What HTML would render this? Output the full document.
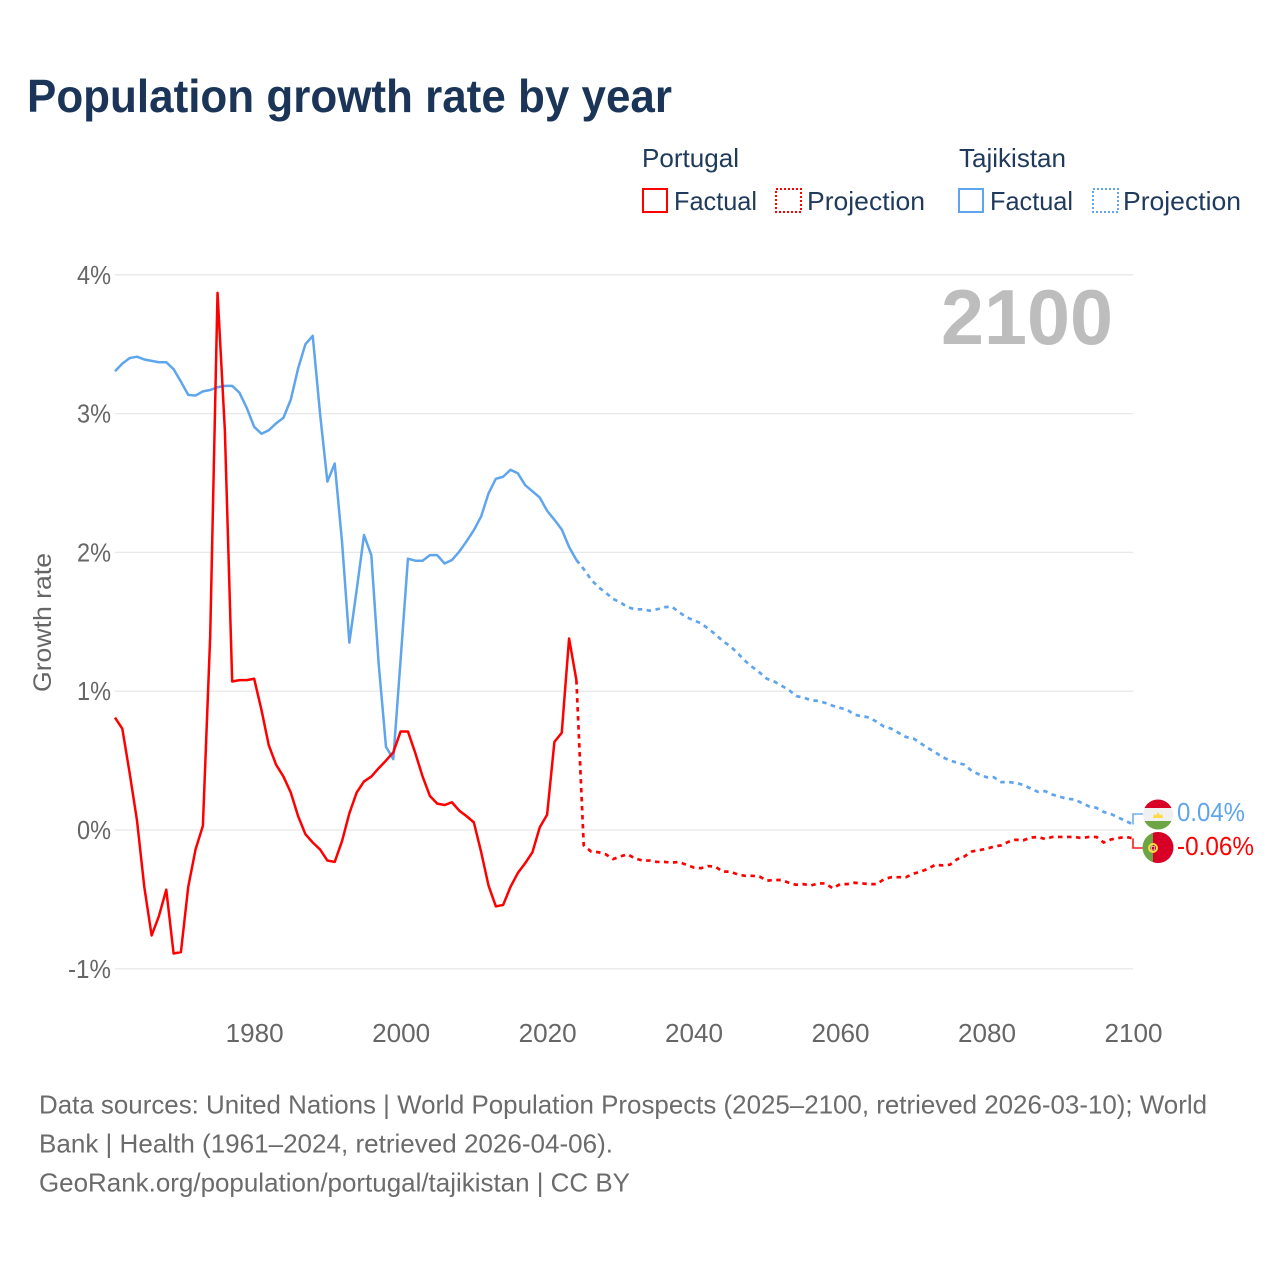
<!DOCTYPE html>
<html lang="en">
<head>
<meta charset="utf-8">
<title>Population growth rate by year</title>
<style>
html,body{margin:0;padding:0;background:#fff;width:1280px;height:1280px;overflow:hidden}
svg{display:block}
text{font-family:"Liberation Sans",sans-serif}
</style>
</head>
<body>
<svg id="chart" width="1280" height="1280" viewBox="0 0 1280 1280" xmlns="http://www.w3.org/2000/svg">
  <defs>
    <clipPath id="clip-tj"><circle cx="1158" cy="814.5" r="15"/></clipPath>
    <clipPath id="clip-pt"><circle cx="1158" cy="847.5" r="15.5"/></clipPath>
  </defs>
  <rect width="1280" height="1280" fill="#fff"/>
  <text x="27" y="112" font-size="46" font-weight="700" fill="#1a3557" textLength="645" lengthAdjust="spacingAndGlyphs">Population growth rate by year</text>

  <g font-size="26" fill="#1f3a5c">
    <text x="642" y="167" textLength="97" lengthAdjust="spacingAndGlyphs">Portugal</text>
    <text x="959" y="167" textLength="107" lengthAdjust="spacingAndGlyphs">Tajikistan</text>
    <rect x="643" y="189" width="24" height="23" fill="none" stroke="#ff0000" stroke-width="2"/>
    <text x="674" y="210" textLength="83" lengthAdjust="spacingAndGlyphs">Factual</text>
    <rect x="776" y="189" width="25" height="23" fill="none" stroke="#ff0000" stroke-width="2" stroke-dasharray="2 2"/>
    <text x="807" y="210" textLength="118" lengthAdjust="spacingAndGlyphs">Projection</text>
    <rect x="959" y="189" width="24" height="23" fill="none" stroke="#5fa5ee" stroke-width="2"/>
    <text x="990" y="210" textLength="83" lengthAdjust="spacingAndGlyphs">Factual</text>
    <rect x="1093" y="189" width="25" height="23" fill="none" stroke="#5fa5ee" stroke-width="2" stroke-dasharray="2 2"/>
    <text x="1123" y="210" textLength="118" lengthAdjust="spacingAndGlyphs">Projection</text>
  </g>

  <g id="grid"></g>
  <g id="y-ticks" font-size="26" fill="#666"></g>
  <g id="x-ticks" font-size="26" fill="#666"></g>
  <text transform="translate(51 622.5) rotate(-90)" text-anchor="middle" font-size="25" fill="#666" textLength="139" lengthAdjust="spacingAndGlyphs">Growth rate</text>
  <text x="941" y="344" font-size="78" font-weight="700" fill="#bdbdbd" textLength="172" lengthAdjust="spacingAndGlyphs">2100</text>

  <g id="series"></g>

  <g clip-path="url(#clip-tj)">
    <rect x="1143" y="799" width="30" height="9" fill="#d80027"/>
    <rect x="1143" y="808" width="30" height="13" fill="#f0f0f0"/>
    <rect x="1143" y="821" width="30" height="9" fill="#6da544"/>
    <path d="M1153 818h10l-1-4-2 1.500-2-3.500-2 3.500-2-1.500z" fill="#ffda44"/>
  </g>
  <g clip-path="url(#clip-pt)">
    <rect x="1142" y="832" width="11" height="31" fill="#6da544"/>
    <rect x="1153" y="832" width="21" height="31" fill="#d80027"/>
    <circle cx="1153" cy="848" r="4" fill="none" stroke="#ffda44" stroke-width="2"/>
    <rect x="1151.500" y="846.500" width="3" height="3.500" fill="#d80027" stroke="#f0f0f0" stroke-width="0.6"/>
  </g>
  <text id="label-tj" x="1177" y="821" font-size="26" fill="#5fa5ee" textLength="68" lengthAdjust="spacingAndGlyphs"></text>
  <text id="label-pt" x="1177" y="855" font-size="26" fill="#ff0000" textLength="77" lengthAdjust="spacingAndGlyphs"></text>

  <g font-size="26" fill="#6b6b6b">
    <text x="39" y="1113.500" textLength="1168" lengthAdjust="spacingAndGlyphs">Data sources: United Nations | World Population Prospects (2025–2100, retrieved 2026-03-10); World</text>
    <text x="39" y="1152.500" textLength="574" lengthAdjust="spacingAndGlyphs">Bank | Health (1961–2024, retrieved 2026-04-06).</text>
    <text x="39" y="1191.500" textLength="591" lengthAdjust="spacingAndGlyphs">GeoRank.org/population/portugal/tajikistan | CC BY</text>
  </g>
</svg>
<script>
const firstFactualYear = 1961;
const firstProjectionYear = 2024;
const yTickValues = [-1, 0, 1, 2, 3, 4];
const xTickYears = [1980, 2000, 2020, 2040, 2060, 2080, 2100];
const portugalFactual = [0.81,0.73,0.41,0.07,-0.41,-0.76,-0.62,-0.43,-0.89,-0.88,-0.41,-0.14,0.03,1.40,3.87,2.88,1.07,1.08,1.08,1.09,0.865,0.61,0.47,0.385,0.27,0.10,-0.03,-0.09,-0.14,-0.22,-0.23,-0.08,0.12,0.27,0.35,0.385,0.445,0.50,0.56,0.71,0.71,0.555,0.385,0.245,0.19,0.18,0.20,0.14,0.10,0.055,-0.16,-0.40,-0.55,-0.54,-0.41,-0.31,-0.24,-0.16,0.02,0.11,0.635,0.70,1.38,1.08];
const portugalProjection = [1.08,-0.11,-0.155,-0.16,-0.175,-0.21,-0.19,-0.175,-0.205,-0.22,-0.22,-0.23,-0.23,-0.235,-0.23,-0.25,-0.27,-0.275,-0.26,-0.265,-0.30,-0.30,-0.32,-0.33,-0.33,-0.335,-0.365,-0.36,-0.36,-0.38,-0.395,-0.39,-0.40,-0.385,-0.385,-0.42,-0.39,-0.39,-0.38,-0.385,-0.39,-0.39,-0.355,-0.34,-0.34,-0.34,-0.315,-0.30,-0.28,-0.25,-0.255,-0.25,-0.21,-0.19,-0.155,-0.145,-0.135,-0.12,-0.11,-0.085,-0.07,-0.075,-0.055,-0.05,-0.065,-0.05,-0.05,-0.05,-0.05,-0.058,-0.05,-0.05,-0.09,-0.068,-0.058,-0.05,-0.06];
const tajikistanFactual = [3.305,3.36,3.40,3.41,3.39,3.38,3.37,3.37,3.32,3.23,3.135,3.13,3.16,3.17,3.19,3.20,3.20,3.15,3.04,2.905,2.855,2.88,2.93,2.97,3.10,3.325,3.50,3.56,3.00,2.51,2.64,2.075,1.35,1.73,2.125,1.98,1.20,0.60,0.51,1.23,1.955,1.94,1.94,1.98,1.98,1.92,1.945,2.005,2.08,2.16,2.26,2.425,2.53,2.545,2.595,2.57,2.485,2.44,2.395,2.30,2.235,2.165,2.04,1.945];
const tajikistanProjection = [1.945,1.88,1.805,1.75,1.71,1.665,1.64,1.605,1.59,1.59,1.58,1.59,1.605,1.61,1.57,1.535,1.51,1.49,1.45,1.41,1.36,1.325,1.275,1.22,1.175,1.135,1.09,1.07,1.04,1.01,0.965,0.955,0.935,0.93,0.915,0.895,0.88,0.865,0.83,0.82,0.81,0.78,0.745,0.73,0.70,0.67,0.66,0.625,0.59,0.56,0.525,0.50,0.485,0.47,0.425,0.40,0.38,0.38,0.345,0.345,0.34,0.325,0.30,0.275,0.28,0.255,0.24,0.225,0.22,0.195,0.17,0.16,0.13,0.115,0.09,0.065,0.04];

const NS = 'http://www.w3.org/2000/svg';
const RED = '#ff0000';
const BLUE = '#5fa5ee';
const xScale = year => 115 + (year - 1961) * (1133 - 115) / (2100 - 1961);
const yScale = value => 830 - value * 138.8;
const fmt = value => value + '%';

function make(tag, parent, attrs) {
  const el = document.createElementNS(NS, tag);
  for (const key in attrs) el.setAttribute(key, attrs[key]);
  parent.appendChild(el);
  return el;
}
function linePath(values, startYear) {
  return values.map((v, i) => (i ? 'L' : 'M') + xScale(startYear + i).toFixed(2) + ' ' + yScale(v).toFixed(2)).join('');
}

const grid = document.getElementById('grid');
const yTicks = document.getElementById('y-ticks');
const xTicks = document.getElementById('x-ticks');
const series = document.getElementById('series');

yTickValues.forEach(v => {
  const line = make('line', grid, {x1: 115, x2: 1133, y1: yScale(v), y2: yScale(v), stroke: '#e8e8e8', 'stroke-width': 1.3});
  
  
  const label = make('text', yTicks, {x: 111, y: yScale(v) + 9, 'text-anchor': 'end', textLength: v < 0 ? 43 : 34, lengthAdjust: 'spacingAndGlyphs'});
  label.textContent = fmt(v);
  
  
});
xTickYears.forEach(y => {
  const label = make('text', xTicks, {x: xScale(y) + 0.5, y: 1042, 'text-anchor': 'middle', textLength: 58, lengthAdjust: 'spacingAndGlyphs'});
  label.textContent = y;
  
  
});

function drawSeries(factual, projection, color, flagY) {
  const projLine = make('path', series, {d: linePath(projection, firstProjectionYear), fill: 'none', stroke: color, 'stroke-width': 2.7, 'stroke-linejoin': 'round', 'stroke-dasharray': '4.5 4.5'});
  
  
  const factLine = make('path', series, {d: linePath(factual, firstFactualYear), fill: 'none', stroke: color, 'stroke-width': 2.5, 'stroke-linejoin': 'round'});
  
  
  const lastValue = projection[projection.length - 1];
  const connector = make('path', series, {d: 'M1133 ' + yScale(lastValue).toFixed(2) + 'V' + flagY + 'H1143', fill: 'none', stroke: color, 'stroke-width': 1.6, 'opacity': 0.9});
  
  
}
drawSeries(tajikistanFactual, tajikistanProjection, BLUE, 814);
drawSeries(portugalFactual, portugalProjection, RED, 848);

document.getElementById('label-tj').textContent = fmt(tajikistanProjection[tajikistanProjection.length - 1].toFixed(2));
document.getElementById('label-pt').textContent = fmt(portugalProjection[portugalProjection.length - 1].toFixed(2));
</script>
</body>
</html>
